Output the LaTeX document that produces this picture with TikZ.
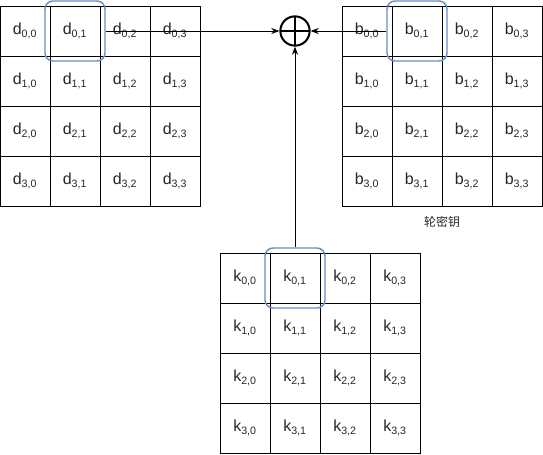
\documentclass[tikz,border=0pt]{standalone}
\usepackage{fontspec}
\setmainfont{Liberation Sans}
\newfontfamily\cjk{Noto Sans CJK SC}
\usetikzlibrary{arrows.meta}

\begin{document}
\begin{tikzpicture}[x=0.75pt,y=-0.75pt]

\tikzstyle{cell} = [draw=black, line width=0.75pt, minimum size=37.5pt, inner sep=0pt, anchor=center, text=black!85, font=\fontsize{12}{14}\selectfont]
\tikzstyle{pick} = [draw={rgb,255:red,108;green,142;blue,191}, line width=1.1pt, rounded corners=6pt, minimum size=45pt, inner sep=0pt]
\tikzstyle{flow} = [-{Stealth[length=6pt,width=4.5pt,inset=1.8pt]}, line width=0.75pt]

\useasboundingbox (0,0) rectangle (543,454);

% state
\foreach \i in {0,...,3} {
  \foreach \j in {0,...,3} {
    \node[cell] (d\i\j) at ({25+50*\j},{31+50*\i}) {d\textsubscript{\i,\j}};
  }
}

% round key
\foreach \i in {0,...,3} {
  \foreach \j in {0,...,3} {
    \node[cell] (b\i\j) at ({367+50*\j},{31+50*\i}) {b\textsubscript{\i,\j}};
  }
}
\node[text=black!85, font=\cjk\fontsize{9}{10}\selectfont] (keylabel) at (442,222) {轮密钥};

% k matrix
\foreach \i in {0,...,3} {
  \foreach \j in {0,...,3} {
    \node[cell] (k\i\j) at ({245+50*\j},{278+50*\i}) {k\textsubscript{\i,\j}};
  }
}

\node[pick] (pd) at (d01) {};
\node[pick] (pb) at (b01) {};
\node[pick] (pk) at (k01) {};

\node[circle, draw, line width=1.5pt, minimum size=22pt, inner sep=0pt,
  path picture={\draw[line width=1.5pt]
    (path picture bounding box.north) -- (path picture bounding box.south)
    (path picture bounding box.west) -- (path picture bounding box.east);}]
  (xor) at (295,31) {};

\draw[flow] (pd.east) -- (xor.west);
\draw[flow] (pb.west) -- (xor.east);
\draw[flow] (pk.north) -- (xor.south);

\end{tikzpicture}
\end{document}
